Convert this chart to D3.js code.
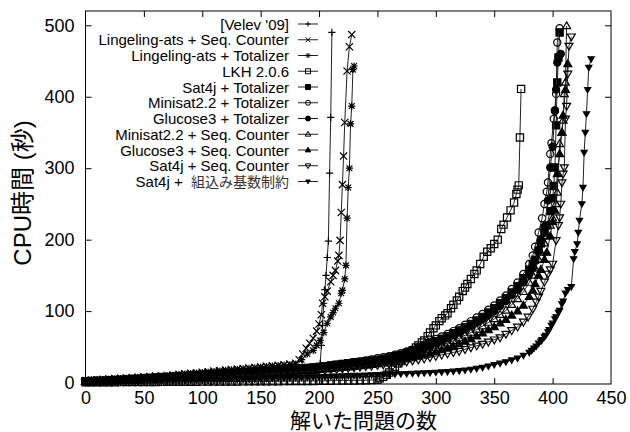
<!DOCTYPE html>
<html>
<head>
<meta charset="utf-8">
<script src="https://cdn.jsdelivr.net/npm/d3@7"></script>
<style>
  body { margin: 0; background: #fff; }
  text { font-family: "Liberation Sans", Arial, "Noto Sans CJK JP", sans-serif; }
</style>
</head>
<body>
<script>
    // legend labels, in drawing order
    var names = ["[Velev '09]", "Lingeling-ats + Seq. Counter", "Lingeling-ats + Totalizer", "LKH 2.0.6",
        "Sat4j + Totalizer", "Minisat2.2 + Totalizer", "Glucose3 + Totalizer", "Minisat2.2 + Seq. Counter",
        "Glucose3 + Seq. Counter", "Sat4j + Seq. Counter", "Sat4j +  組込み基数制約"];
    var markers = ["plus", "cross", "star", "square", "squareF", "circle", "circleF", "tri", "triF", "tridn", "tridnF"];

    var xTicks = [0, 50, 100, 150, 200, 250, 300, 350, 400, 450];
    var yTicks = [0, 100, 200, 300, 400, 500];

    // [solved problems, cpu seconds]
    var velev = [[0,0.2],[5,0.3],[10,0.4],[15,0.5],[20,0.6],[25,0.7],[30,0.8],[35,0.9],[40,1],[45,1.1],[50,1.2],
        [55,1.35],[60,1.5],[65,1.65],[70,1.8],[75,1.95],[80,2.1],[85,2.3],[90,2.5],[95,2.7],[100,2.9],[105,3.1],
        [110,3.3],[115,3.55],[120,3.8],[125,4.05],[130,4.3],[135,4.6],[140,4.9],[145,5.2],[150,5.5],[155,5.9],
        [160,6.3],[165,6.7],[170,7.2],[175,7.8],[180,8.5],[185,9.3],[190,10.5],[195,12.5],[198,15],[200,20],
        [201,27],[202,52],[203,80],[204,111],[205,130],[206,150],[207,175],[208,198],[209,293],[210,371],[211,490]];
    var lingSeq = [[0,3],[5,3.5],[10,4],[15,4.5],[20,5],[25,5.5],[30,6],[35,6.5],[40,7],[45,7.5],[50,8],[55,8.5],
        [60,9],[65,9.5],[70,10],[75,10.7],[80,11.5],[85,12.2],[90,13],[95,13.7],[100,14.5],[105,15.2],[110,16],
        [115,16.7],[120,17.5],[125,18.2],[130,19],[135,19.7],[140,20.5],[145,21.2],[150,22],[155,22.7],[160,23.5],
        [165,24.2],[170,25],[175,26],[180,27],[183,32],[186,40],[189,48],[192,55],[195,62],[198,72],[200,82],
        [202,95],[203,111],[205,120],[207,128],[210,141],[212,150],[214,157],[216,170],[217,178],[218,199],[219,238],
        [220,277],[221,317],[222,364],[224,436],[226,470],[228,487]];
    var lingTot = [[0,2.5],[5,3],[10,3.5],[15,4],[20,4.5],[25,5],[30,5.5],[35,6],[40,6.5],[45,7],[50,7.5],[55,8],
        [60,8.5],[65,9],[70,9.5],[75,10.2],[80,11],[85,11.7],[90,12.5],[95,13.2],[100,14],[105,14.7],[110,15.5],
        [115,16.2],[120,17],[125,17.7],[130,18.5],[135,19.2],[140,20],[145,20.7],[150,21.5],[155,22.2],[160,23],
        [165,23.7],[170,24.5],[175,25.2],[180,26],[185,32],[190,40],[195,45],[198,52],[201,59],[204,70],[207,83],
        [210,92],[212,98],[214,104],[217,111],[219,125],[220,129],[222,145],[223,164],[224,230],[225,273],[226,300],
        [227,362],[228,387],[229,438],[230,443]];
    var lkh = [[0,0.3],[5,0.35],[10,0.4],[15,0.45],[20,0.5],[25,0.55],[30,0.6],[35,0.65],[40,0.7],[45,0.75],
        [50,0.8],[55,0.85],[60,0.9],[65,0.95],[70,1],[75,1.05],[80,1.1],[85,1.15],[90,1.2],[95,1.25],[100,1.3],
        [105,1.35],[110,1.4],[115,1.45],[120,1.5],[125,1.55],[130,1.6],[135,1.65],[140,1.7],[145,1.75],[150,1.8],
        [155,1.85],[160,1.9],[165,1.95],[170,2],[175,2.05],[180,2.1],[185,2.15],[190,2.2],[195,2.3],[200,2.4],
        [205,2.5],[210,2.6],[215,2.7],[220,2.8],[225,2.9],[230,3],[235,3.15],[240,3.3],[245,3.6],[250,4],[252,6],
        [255,8],[258,11],[260,14],[263,18],[265,22],[268,27],[270,30],[273,35],[275,38],[278,42],[280,45],[283,49],
        [285,52],[288,56],[290,59],[293,65],[295,70],[298,76],[300,80],[303,86],[305,90],[308,94],[310,97],[313,104],
        [315,109],[318,115],[320,120],[323,128],[325,133],[327,138],[330,145],[333,152],[335,157],[338,166],[341,176],
        [344,183],[347,188],[350,194],[353,200],[356,215],[358,221],[361,231],[364,241],[367,252],[369,264],[370,270],
        [371,276],[372,343],[373,411]];
    var sat4jTot = [[0,2],[5,2.2],[10,2.5],[15,2.7],[20,3],[25,3.5],[30,4],[35,4.5],[40,5],[45,5.5],[50,6],[55,6.5],
        [60,7],[65,7.5],[70,8],[75,8.5],[80,9],[85,9.5],[90,10],[95,10.5],[100,11],[105,11.5],[110,12],[115,12.5],
        [120,13],[125,13.5],[130,14],[135,14.5],[140,15],[145,15.5],[150,16],[155,16.5],[160,17],[165,17.5],[170,18],
        [175,18.5],[180,19],[185,19.7],[190,20.5],[195,21.2],[200,22],[205,23],[210,24],[215,25],[220,26],[225,27],
        [230,28],[235,29],[240,30],[245,31],[250,32],[255,33.5],[260,35],[265,37],[270,39],[275,41.5],[280,44],
        [285,47.5],[290,51],[295,54.5],[300,58],[305,61.5],[310,65],[315,69],[320,73],[325,77.5],[330,82],[335,87],
        [340,92],[345,98],[350,104],[355,111],[360,118],[365,126],[370,135],[375,146],[380,158],[383,166],[385,172],
        [388,185],[390,195],[393,210],[395,220],[398,240],[400,258],[401,275],[402,301],[403,360],[404,420],[405,455],
        [406,490]];
    var minisatTot = [[0,1.8],[5,2],[10,2.3],[15,2.6],[20,3],[25,3.4],[30,3.8],[35,4.2],[40,4.6],[45,5],[50,5.5],
        [55,6],[60,6.4],[65,6.8],[70,7.3],[75,7.8],[80,8.2],[85,8.7],[90,9.2],[95,9.7],[100,10.2],[105,10.7],[110,11.2],
        [115,11.7],[120,12.2],[125,12.7],[130,13.3],[135,13.8],[140,14.4],[145,15],[150,15.5],[155,16],[160,16.6],
        [165,17.2],[170,17.8],[175,18.4],[180,19],[185,19.7],[190,20.5],[195,21.2],[200,22],[205,23],[210,24],[215,25],
        [220,26],[225,27.2],[230,28.5],[235,29.7],[240,31],[245,32.5],[250,34],[255,35.5],[260,37],[265,39],[270,41],
        [275,43.5],[280,46],[285,49.5],[290,53],[295,57],[300,61],[305,64.5],[310,68],[315,72],[320,76],[325,81],
        [330,86],[335,91],[340,96],[345,102],[350,108],[355,115],[360,122],[365,131],[370,140],[375,152],[380,166],
        [383,178],[385,190],[388,210],[391,230],[393,250],[395,267],[396,280],[398,320],[399,335],[401,369],[402,381],
        [403,404],[404,476],[406,496]];
    var glucoseTot = [[0,1.5],[5,1.7],[10,2],[15,2.3],[20,2.6],[25,2.9],[30,3.3],[35,3.6],[40,4],[45,4.4],[50,4.8],
        [55,5.2],[60,5.6],[65,6],[70,6.5],[75,7],[80,7.4],[85,7.8],[90,8.3],[95,8.8],[100,9.3],[105,9.8],[110,10.3],
        [115,10.8],[120,11.3],[125,11.8],[130,12.3],[135,12.8],[140,13.4],[145,14],[150,14.5],[155,15],[160,15.6],
        [165,16.2],[170,16.8],[175,17.4],[180,18],[185,18.6],[190,19.3],[195,19.9],[200,20.6],[205,21.4],[210,22.2],
        [215,23.1],[220,24],[225,25],[230,26],[235,27.2],[240,28.5],[245,29.7],[250,31],[255,32.5],[260,34],[265,36],
        [270,38],[275,40],[280,42],[285,45],[290,48],[295,51.5],[300,55],[305,58.5],[310,62],[315,66],[320,70],
        [325,74.5],[330,79],[335,84],[340,89],[345,94.5],[350,100],[355,107],[360,114],[365,122],[370,130],[375,140],
        [380,152],[383,160],[385,170],[388,185],[390,200],[393,218],[396,255],[398,301],[400,330],[402,380],[403,410],
        [404,448],[407,460]];
    var minisatSeq = [[0,1.4],[5,1.6],[10,1.8],[15,2],[20,2.3],[25,2.6],[30,2.9],[35,3.2],[40,3.5],[45,3.8],[50,4.2],
        [55,4.5],[60,4.9],[65,5.3],[70,5.7],[75,6.1],[80,6.5],[85,6.9],[90,7.3],[95,7.7],[100,8.2],[105,8.6],[110,9.1],
        [115,9.5],[120,10],[125,10.5],[130,11],[135,11.5],[140,12],[145,12.5],[150,13],[155,13.5],[160,14],[165,14.6],
        [170,15.2],[175,15.8],[180,16.4],[185,17],[190,17.7],[195,18.3],[200,19],[205,19.7],[210,20.5],[215,21.2],
        [220,22],[225,23],[230,24],[235,25],[240,26],[245,27.2],[250,28.5],[255,29.7],[260,31],[265,32.5],[270,34],
        [275,36],[280,38],[285,40.5],[290,43],[295,46],[300,49],[305,52],[310,55],[315,58.5],[320,62],[325,66],
        [330,70],[335,74.5],[340,79],[345,84],[350,89],[355,95],[360,101],[365,109],[370,117],[375,127],[380,140],
        [383,150],[385,160],[388,172],[390,182],[393,195],[395,205],[398,220],[400,230],[403,250],[404,266],[406,334],
        [408,350],[409,367],[410,404],[411,420],[412,499]];
    var glucoseSeq = [[0,1.3],[5,1.5],[10,1.7],[15,1.9],[20,2.2],[25,2.4],[30,2.7],[35,3],[40,3.3],[45,3.6],[50,3.9],
        [55,4.2],[60,4.6],[65,4.9],[70,5.3],[75,5.7],[80,6.1],[85,6.5],[90,6.9],[95,7.3],[100,7.7],[105,8.1],[110,8.6],
        [115,9],[120,9.5],[125,9.9],[130,10.4],[135,10.9],[140,11.4],[145,11.9],[150,12.4],[155,12.9],[160,13.4],
        [165,13.9],[170,14.5],[175,15],[180,15.6],[185,16.2],[190,16.8],[195,17.4],[200,18],[205,18.6],[210,19.3],
        [215,20],[220,20.7],[225,21.4],[230,22.2],[235,23.1],[240,24],[245,25],[250,26],[255,27.2],[260,28.5],
        [265,29.7],[270,31],[275,32.7],[280,34.5],[285,36.5],[290,38.5],[295,40.7],[300,43],[305,45.5],[310,48],
        [315,51],[320,54],[325,57.5],[330,61],[335,65],[340,69],[345,73.5],[350,78],[355,83],[360,88],[365,94],
        [370,100],[375,108],[380,120],[383,129],[385,138],[388,150],[390,158],[393,172],[395,182],[398,205],[400,225],
        [402,241],[404,292],[406,320],[408,350],[409,374],[411,410],[413,446]];
    var sat4jSeq = [[0,1.2],[5,1.4],[10,1.6],[15,1.8],[20,2],[25,2.2],[30,2.5],[35,2.7],[40,3],[45,3.3],[50,3.6],
        [55,3.9],[60,4.2],[65,4.5],[70,4.9],[75,5.2],[80,5.6],[85,5.9],[90,6.3],[95,6.6],[100,7],[105,7.4],[110,7.8],
        [115,8.2],[120,8.6],[125,9],[130,9.5],[135,9.9],[140,10.4],[145,10.8],[150,11.3],[155,11.8],[160,12.3],
        [165,12.8],[170,13.3],[175,13.8],[180,14.4],[185,14.9],[190,15.5],[195,16.1],[200,16.7],[205,17.3],[210,18],
        [215,18.7],[220,19.4],[225,20.2],[230,21],[235,21.8],[240,22.6],[245,23.4],[250,24.3],[255,25.1],[260,26],
        [265,27],[270,28],[275,29.2],[280,30.5],[285,32],[290,33.5],[295,35.2],[300,37],[305,38.7],[310,40.5],
        [315,42.2],[320,44],[325,46.5],[330,49],[335,51.5],[340,54],[345,57],[350,60],[355,63],[360,68],[365,73],
        [370,78],[375,85],[379,92],[383,103],[386,113],[388,120],[390,128],[393,141],[396,152],[398,158],[400,166],
        [403,199],[405,220],[406,231],[407,250],[408,280],[409,292],[410,301],[411,369],[412,387],[413,432],[414,471],
        [416,484]];
    var sat4jCard = [[0,0.5],[5,0.65],[10,0.8],[15,0.95],[20,1.1],[25,1.25],[30,1.4],[35,1.55],[40,1.7],[45,1.85],
        [50,2],[55,2.15],[60,2.3],[65,2.45],[70,2.6],[75,2.75],[80,2.9],[85,3.05],[90,3.2],[95,3.35],[100,3.5],
        [105,3.7],[110,3.9],[115,4.1],[120,4.3],[125,4.5],[130,4.7],[135,4.9],[140,5.1],[145,5.3],[150,5.5],[155,5.75],
        [160,6],[165,6.25],[170,6.5],[175,6.75],[180,7],[185,7.25],[190,7.5],[195,7.75],[200,8],[205,8.3],[210,8.6],
        [215,8.9],[220,9.2],[225,9.5],[230,9.8],[235,10.1],[240,10.4],[245,10.7],[250,11],[255,11.3],[260,11.6],
        [265,11.9],[270,12.2],[275,12.5],[280,12.8],[285,13.1],[290,13.5],[295,13.9],[300,14.3],[305,14.7],[310,15.2],
        [315,15.8],[320,16.5],[325,17.4],[330,18.5],[335,19.7],[340,21],[345,23],[350,25],[355,27],[360,29],[365,31.5],
        [370,34],[375,38],[380,42],[382,45],[384,48],[386,51],[388,55],[390,58],[391,60],[393,64],[394,66],[396,71],
        [397,74],[399,80],[400,83],[402,89],[403,92],[405,98],[406,101],[408,110],[409,114],[411,125],[413,130],
        [416,134],[418,173],[419,183],[421,194],[422,210],[423,227],[425,250],[426,273],[427,322],[428,350],[429,376],
        [430,410],[431,441],[433,453]];

    var series = [velev, lingSeq, lingTot, lkh, sat4jTot, minisatTot, glucoseTot, minisatSeq, glucoseSeq, sat4jSeq, sat4jCard];

    var W = 630, H = 432;
    var margin = {top: 11, right: 19, bottom: 48, left: 85.5};

    var svg = d3.select("body").append("svg")
        .attr("width", W)
        .attr("height", H);

    var x = d3.scaleLinear().domain([0, 450]).range([margin.left, W - margin.right]);
    var y = d3.scaleLinear().domain([-2, 520]).range([H - margin.bottom, margin.top]);

    // marker shapes, like gnuplot point types 1..11
    function markerPath(type, h) {
        if (type == "plus") return "M" + (-h) + ",0H" + h + "M0," + (-h) + "V" + h;
        if (type == "cross") return "M" + (-h) + "," + (-h) + "L" + h + "," + h + "M" + (-h) + "," + h + "L" + h + "," + (-h);
        if (type == "star") return markerPath("plus", h) + markerPath("cross", h * 0.8);
        if (type == "square" || type == "squareF") return "M" + (-h) + "," + (-h) + "H" + h + "V" + h + "H" + (-h) + "Z";
        if (type == "circle" || type == "circleF") return "M" + (-h) + ",0A" + h + "," + h + " 0 1,0 " + h + ",0A" + h + "," + h + " 0 1,0 " + (-h) + ",0Z";
        if (type == "tri" || type == "triF") return "M0," + (-h * 1.15) + "L" + (h * 1.1) + "," + (h * 0.75) + "H" + (-h * 1.1) + "Z";
        return "M0," + (h * 1.15) + "L" + (h * 1.1) + "," + (-h * 0.75) + "H" + (-h * 1.1) + "Z";
    }
    function isFilled(type) {
        return type.slice(-1) == "F";
    }
    function drawMarker(g, type, h, sw) {
        g.append("path")
            .attr("d", markerPath(type, h))
            .attr("fill", isFilled(type) ? "#000" : "none")
            .attr("stroke", "#000")
            .attr("stroke-width", sw);
    }

    //frame
    svg.append("rect")
        .attr("x", margin.left)
        .attr("y", margin.top)
        .attr("width", W - margin.right - margin.left)
        .attr("height", H - margin.bottom - margin.top)
        .attr("fill", "none")
        .attr("stroke", "#000")
        .attr("stroke-width", 1);

    //axes (ticks inward, mirrored)
    var axB = svg.append("g")
        .attr("transform", "translate(0," + (H - margin.bottom) + ")")
        .call(d3.axisBottom(x).tickValues(xTicks).tickSize(-6).tickPadding(7));
    var axT = svg.append("g")
        .attr("transform", "translate(0," + margin.top + ")")
        .call(d3.axisTop(x).tickValues(xTicks).tickSize(-6).tickFormat(""));
    var axL = svg.append("g")
        .attr("transform", "translate(" + margin.left + ",0)")
        .call(d3.axisLeft(y).tickValues(yTicks).tickSize(-6).tickPadding(11));
    var axR = svg.append("g")
        .attr("transform", "translate(" + (W - margin.right) + ",0)")
        .call(d3.axisRight(y).tickValues(yTicks).tickSize(-6).tickFormat(""));

    [axB, axT, axL, axR].forEach(function(a) {
        a.select(".domain").remove();
        a.selectAll("line").attr("stroke", "#000");
        a.selectAll("text")
            .attr("fill", "#000")
            .style("font-size", "18px");
    });
    // ticks that would sit on the frame corners
    axT.selectAll(".tick").filter(function(d) { return d == 0 || d == 450; }).select("line").remove();
    axB.selectAll(".tick").filter(function(d) { return d == 0 || d == 450; }).select("line").remove();
    axL.selectAll(".tick").filter(function(d) { return d == 0; }).select("line").remove();
    axR.selectAll(".tick").filter(function(d) { return d == 0; }).select("line").remove();

    //axis titles
    svg.append("text")
        .attr("x", 290)
        .attr("y", 427.5)
        .style("font-size", "21px")
        .text("解いた問題の数");

    svg.append("text")
        .attr("transform", "translate(31,193) rotate(-90)")
        .attr("text-anchor", "middle")
        .style("font-size", "24px")
        .text("CPU時間 (秒)");

    //data
    var line = d3.line()
        .x(function(d) { return x(d[0]); })
        .y(function(d) { return y(d[1]); });

    var plot = svg.append("g").attr("id", "data");

    series.forEach(function(s, i) {
        var g = plot.append("g");
        g.append("path")
            .datum(s)
            .attr("d", line)
            .attr("fill", "none")
            .attr("stroke", "#222")
            .attr("stroke-width", 1);
        g.selectAll("g.pt")
            .data(s)
            .enter()
            .append("g")
            .attr("class", "pt")
            .attr("transform", function(d) { return "translate(" + x(d[0]) + "," + y(d[1]) + ")"; })
            .each(function() {
                drawMarker(d3.select(this), markers[i], i == 10 ? 2.8 : 3.6, 1.2);
            });
    });

    //legend
    var legend = svg.append("g").attr("id", "legend");
    names.forEach(function(n, i) {
        var cy = 24 + i * 15.75;
        var t = legend.append("text")
            .attr("x", 289)
            .attr("y", cy + 5.5)
            .attr("text-anchor", "end")
            .style("font-size", "15px")
            .style("white-space", "pre")
            .attr("fill", "#000");
        if (i == 10) {
            t.append("tspan").text("Sat4j +  ");
            t.append("tspan").attr("fill", "#333").style("font-size", "14px").text("組込み基数制約");
        } else {
            t.text(n);
        }
        legend.append("line")
            .attr("x1", 298)
            .attr("x2", 318)
            .attr("y1", cy)
            .attr("y2", cy)
            .attr("stroke", "#222");
        var m = legend.append("g").attr("transform", "translate(308," + cy + ")");
        drawMarker(m, markers[i], i == 10 ? 2 : 2.5, 1);
    });
</script>
</body>
</html>
